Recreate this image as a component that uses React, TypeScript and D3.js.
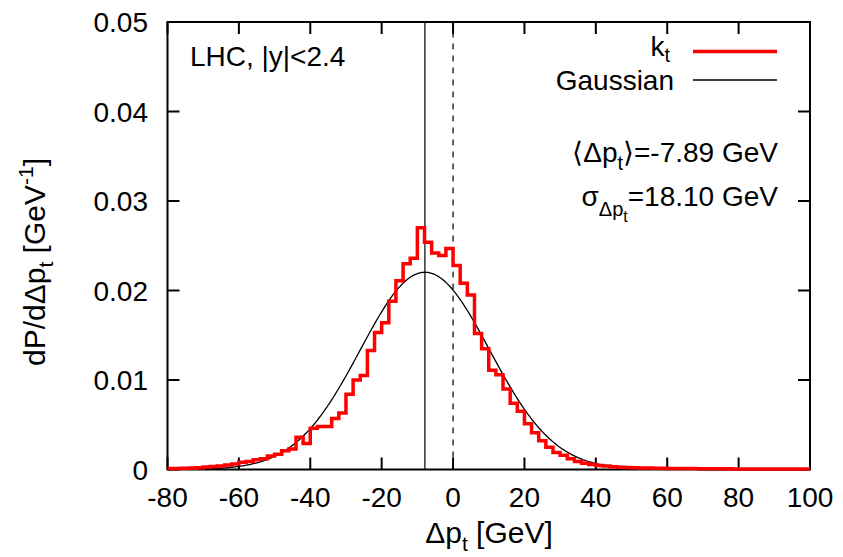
import React from "react";
import * as d3 from "d3";

// ---- data ----
const binStart = -80;
const binWidth = 2;
const ktValues = [
  0.0001, 0.00012, 0.00014, 0.00018, 0.0002, 0.00028, 0.00033, 0.0004, 0.0005, 0.00062,
  0.0008, 0.0009, 0.0011, 0.0012, 0.0015, 0.0017, 0.0021, 0.0023,
  0.0036, 0.0029, 0.0046, 0.0048, 0.0048, 0.0057, 0.0063, 0.0084, 0.01, 0.0105,
  0.0133, 0.0153, 0.0164, 0.0188, 0.0211, 0.023, 0.0236, 0.027, 0.0254, 0.0242,
  0.0239, 0.0247,
  0.0228, 0.0208, 0.0195, 0.0152, 0.0135, 0.0111, 0.0106, 0.009, 0.0074, 0.0065,
  0.0051, 0.0041, 0.0032, 0.0025, 0.0019, 0.0016, 0.0012, 0.0009, 0.0007, 0.00056,
  0.00045, 0.00038, 0.0003, 0.00026, 0.00022,
  0.0002, 0.00018, 0.00016, 0.00015, 0.00013, 0.00012, 0.00011, 0.0001, 0.0001, 0.00009,
  0.00008, 0.00008, 0.00007, 0.00007, 0.00006, 0.00006,
  0.00005, 0.00005, 0.00005, 0.00005, 0.00005, 0.00005, 0.00005, 0.00005, 0.00005,
];
const meanDpt = -7.89;
const sigmaDpt = 18.1;
const xTicks = [-80, -60, -40, -20, 0, 20, 40, 60, 80, 100];
const yTicks = [0, 0.01, 0.02, 0.03, 0.04, 0.05];
const yTickLabels = ["0", "0.01", "0.02", "0.03", "0.04", "0.05"];

const W = 843;
const H = 557;
const FONT = "'Liberation Sans', Arial, Helvetica, sans-serif";
const FS = 28;
const SUB = 20;
const TFS = 30;
const TSUB = 21;

export default function App() {
  const x = d3.scaleLinear().domain([-80, 100]).range([167.5, 810]);
  const y = d3.scaleLinear().domain([0, 0.05]).range([469.5, 22]);

  const stepPts: [number, number][] = ktValues.map((v, i) => [binStart + i * binWidth, v]);
  stepPts.push([binStart + ktValues.length * binWidth, ktValues[ktValues.length - 1]]);
  const stepLine = d3
    .line<[number, number]>()
    .x((d) => x(d[0]))
    .y((d) => y(d[1]))
    .curve(d3.curveStepAfter);

  const gauss = (v: number) =>
    Math.exp(-((v - meanDpt) ** 2) / (2 * sigmaDpt * sigmaDpt)) / (sigmaDpt * Math.sqrt(2 * Math.PI));
  const gPts: [number, number][] = d3.range(-80, 100.01, 0.5).map((v) => [v, gauss(v)]);
  const gLine = d3
    .line<[number, number]>()
    .x((d) => x(d[0]))
    .y((d) => y(d[1]));

  const [xl, xr] = x.range();
  const [yb, yt] = y.range();
  const tick = 12;

  return (
    <svg width={W} height={H} style={{ position: "absolute", left: 0, top: 0, background: "#fff" }}
      fontFamily={FONT} fontSize={FS}>
      <rect x={0} y={0} width={W} height={H} fill="#fff" />
      {/* ticks */}
      {xTicks.map((t) => (
        <g key={"xt" + t}>
          <line x1={x(t)} x2={x(t)} y1={yb} y2={yb - tick} stroke="#000" strokeWidth={2} />
          <line x1={x(t)} x2={x(t)} y1={yt} y2={yt + tick} stroke="#000" strokeWidth={2} />
          <text x={x(t)} y={507} textAnchor="middle">{t}</text>
        </g>
      ))}
      {yTicks.map((t, i) => (
        <g key={"yt" + t}>
          <line x1={xl} x2={xl + tick} y1={y(t)} y2={y(t)} stroke="#000" strokeWidth={2} />
          <line x1={xr} x2={xr - tick} y1={y(t)} y2={y(t)} stroke="#000" strokeWidth={2} />
          <text x={148} y={y(t) + 10} textAnchor="end">{yTickLabels[i]}</text>
        </g>
      ))}
      <rect x={xl} y={yt} width={xr - xl} height={yb - yt} fill="none" stroke="#000" strokeWidth={2} />

      {/* vertical lines */}
      <line x1={x(meanDpt)} x2={x(meanDpt)} y1={yb} y2={yt} stroke="#000" strokeWidth={1.2} />
      <line x1={x(0)} x2={x(0)} y1={yb} y2={yt} stroke="#000" strokeWidth={1.2} strokeDasharray="6,6" />

      {/* curves */}
      <path d={gLine(gPts) || ""} fill="none" stroke="#000" strokeWidth={1.3} />
      <path d={stepLine(stepPts) || ""} fill="none" stroke="#ff0000" strokeWidth={3.5} />

      {/* legend */}
      <text x={670} y={56} textAnchor="end">
        k<tspan fontSize={SUB} dy={6}>t</tspan>
      </text>
      <line x1={693} x2={777} y1={51.5} y2={51.5} stroke="#ff0000" strokeWidth={3.5} />
      <text x={674} y={90} textAnchor="end">Gaussian</text>
      <line x1={693} x2={777} y1={80} y2={80} stroke="#000" strokeWidth={1.3} />

      <text x={190} y={66}>LHC, |y|&lt;2.4</text>

      <text x={778} y={162} textAnchor="end">
        ⟨Δp<tspan fontSize={SUB} dy={8}>t</tspan><tspan dy={-8}>⟩=-7.89 GeV</tspan>
      </text>
      <text x={778} y={206} textAnchor="end">
        σ<tspan fontSize={SUB} dy={10}>Δp</tspan><tspan fontSize={16} dy={6}>t</tspan>
        <tspan dy={-16}>=18.10 GeV</tspan>
      </text>

      {/* axis titles */}
      <text x={489} y={543} textAnchor="middle" fontSize={TFS}>
        Δp<tspan fontSize={TSUB} dy={8}>t</tspan><tspan dy={-8}> [GeV]</tspan>
      </text>
      <text transform="translate(45,262) rotate(-90)" textAnchor="middle" fontSize={TFS}>
        dP/dΔp<tspan fontSize={TSUB} dy={8}>t</tspan><tspan dy={-8}> [GeV</tspan>
        <tspan fontSize={TSUB} dy={-12}>-1</tspan><tspan dy={12}>]</tspan>
      </text>
    </svg>
  );
}
